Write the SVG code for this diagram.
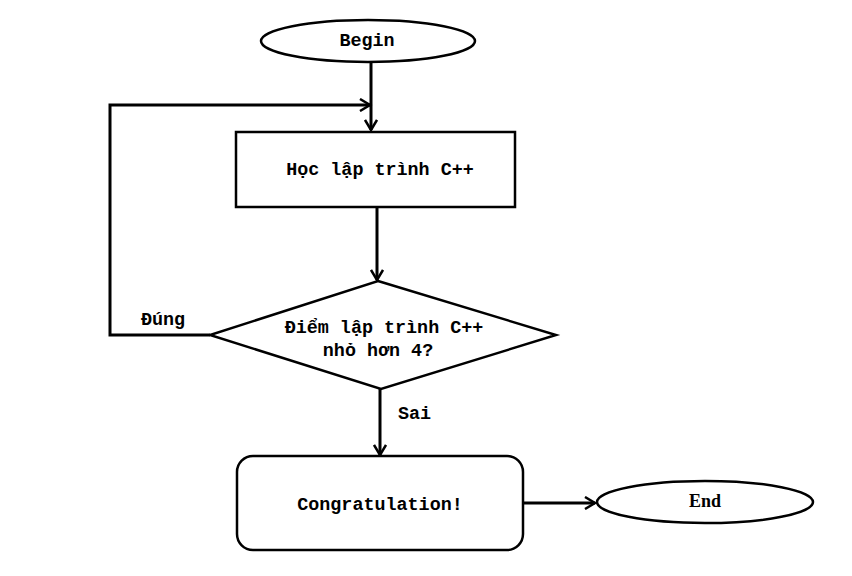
<svg xmlns="http://www.w3.org/2000/svg" width="852" height="576" viewBox="0 0 852 576">
<style>
.shape{fill:#fff;stroke:#000;stroke-width:2.5}
.conn{fill:none;stroke:#000;stroke-width:3}
.t{font-family:"Liberation Mono","Courier New",monospace;font-weight:bold;font-size:18.4px;fill:#000}
.s{font-family:"Liberation Serif","Times New Roman",serif;font-weight:bold;font-size:18px;fill:#000}
</style>
<defs>
<marker id="arr" markerWidth="14" markerHeight="14" refX="11" refY="7" orient="auto" markerUnits="userSpaceOnUse">
<path d="M1,1 L11,7 L1,13" fill="none" stroke="#000" stroke-width="2.5"/>
</marker>
</defs>
<rect width="852" height="576" fill="#fff"/>
<g id="connectors">
<line class="conn" x1="371" y1="62" x2="371" y2="130" marker-end="url(#arr)"/>
<polyline class="conn" points="210,335 110,335 110,105 370,105" marker-end="url(#arr)"/>
<line class="conn" x1="377" y1="207" x2="377" y2="280" marker-end="url(#arr)"/>
<line class="conn" x1="380" y1="389" x2="380" y2="455" marker-end="url(#arr)"/>
<line class="conn" x1="523" y1="503" x2="595" y2="503" marker-end="url(#arr)"/>
<text class="t" x="141" y="325">Đúng</text>
<text class="t" x="398" y="419">Sai</text>
</g>
<g id="begin">
<ellipse class="shape" cx="368" cy="41" rx="107" ry="21"/>
<text class="t" x="367" y="46" text-anchor="middle">Begin</text>
</g>
<g id="hoc">
<rect class="shape" x="236" y="132" width="279" height="75"/>
<text class="t" x="380" y="175" text-anchor="middle">Học lập trình C++</text>
</g>
<g id="decision">
<polygon class="shape" points="378,281 556,335 381,389 210,335"/>
<text class="t" x="384" y="333" text-anchor="middle">Điểm lập trình C++</text>
<text class="t" x="378" y="356" text-anchor="middle">nhỏ hơn 4?</text>
</g>
<g id="congrat">
<rect class="shape" x="237" y="456" width="286" height="94" rx="16"/>
<text class="t" x="380" y="510" text-anchor="middle">Congratulation!</text>
</g>
<g id="end">
<ellipse class="shape" cx="705" cy="502" rx="108" ry="21"/>
<text class="s" x="705" y="507" text-anchor="middle">End</text>
</g>
</svg>
